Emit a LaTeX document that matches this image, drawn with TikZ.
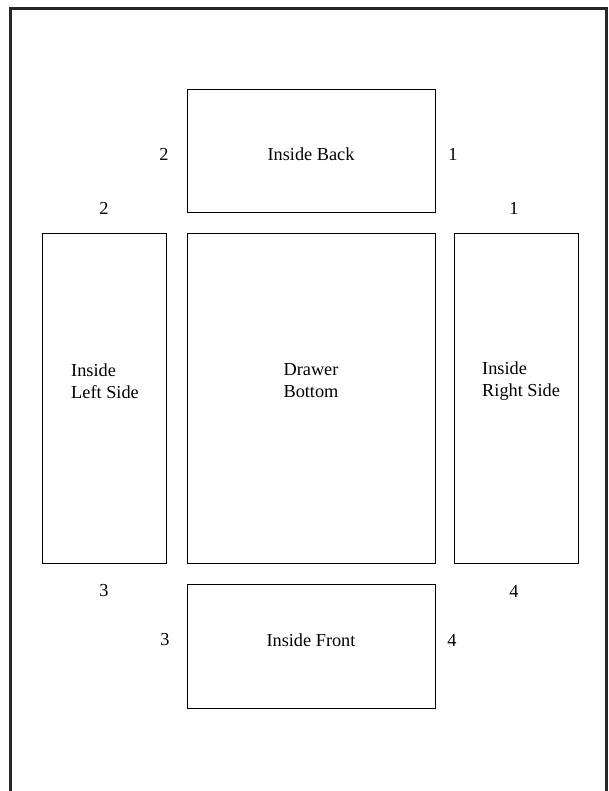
\documentclass[tikz,border=0pt]{standalone}
\usepackage{fontspec}
\setmainfont{Liberation Serif}
\begin{document}
\begin{tikzpicture}[x=1pt,y=-1pt,
  panel/.style={draw=black,line width=1pt},
  lbl/.style={font=\fontsize{18.3}{22}\selectfont,inner sep=0pt},
  num/.style={font=\fontsize{18.3}{22}\selectfont,inner sep=0pt}]
\useasboundingbox (0,0) rectangle (608,791);
\draw[line width=3.5pt,color=black!85] (10.5,795) -- (10.5,8.5) -- (606.5,8.5) -- (606.5,795);
\draw[panel] (187,90) rectangle (435,213);
\draw[panel] (42,234) rectangle (166,563);
\draw[panel] (187,234) rectangle (435,563);
\draw[panel] (454,234) rectangle (578,563);
\draw[panel] (187,584) rectangle (435,708);
\node[lbl] (back) at (311,154) {Inside Back};
\node[lbl,align=left,anchor=west] (left) at (71,381) {Inside\\Left Side};
\node[lbl,align=center] (bottom) at (311,381) {Drawer\\Bottom};
\node[lbl,align=left,anchor=west] (right) at (482,381) {Inside\\Right Side};
\node[lbl] (front) at (311,640) {Inside Front};
\node[num] (n2a) at (164,154) {2};
\node[num] (n1a) at (453,154) {1};
\node[num] (n2b) at (104,208) {2};
\node[num] (n1b) at (514,208) {1};
\node[num] (n3a) at (104,591) {3};
\node[num] (n4a) at (514,591) {4};
\node[num] (n3b) at (165,640) {3};
\node[num] (n4b) at (452,640) {4};
\end{tikzpicture}
\end{document}
